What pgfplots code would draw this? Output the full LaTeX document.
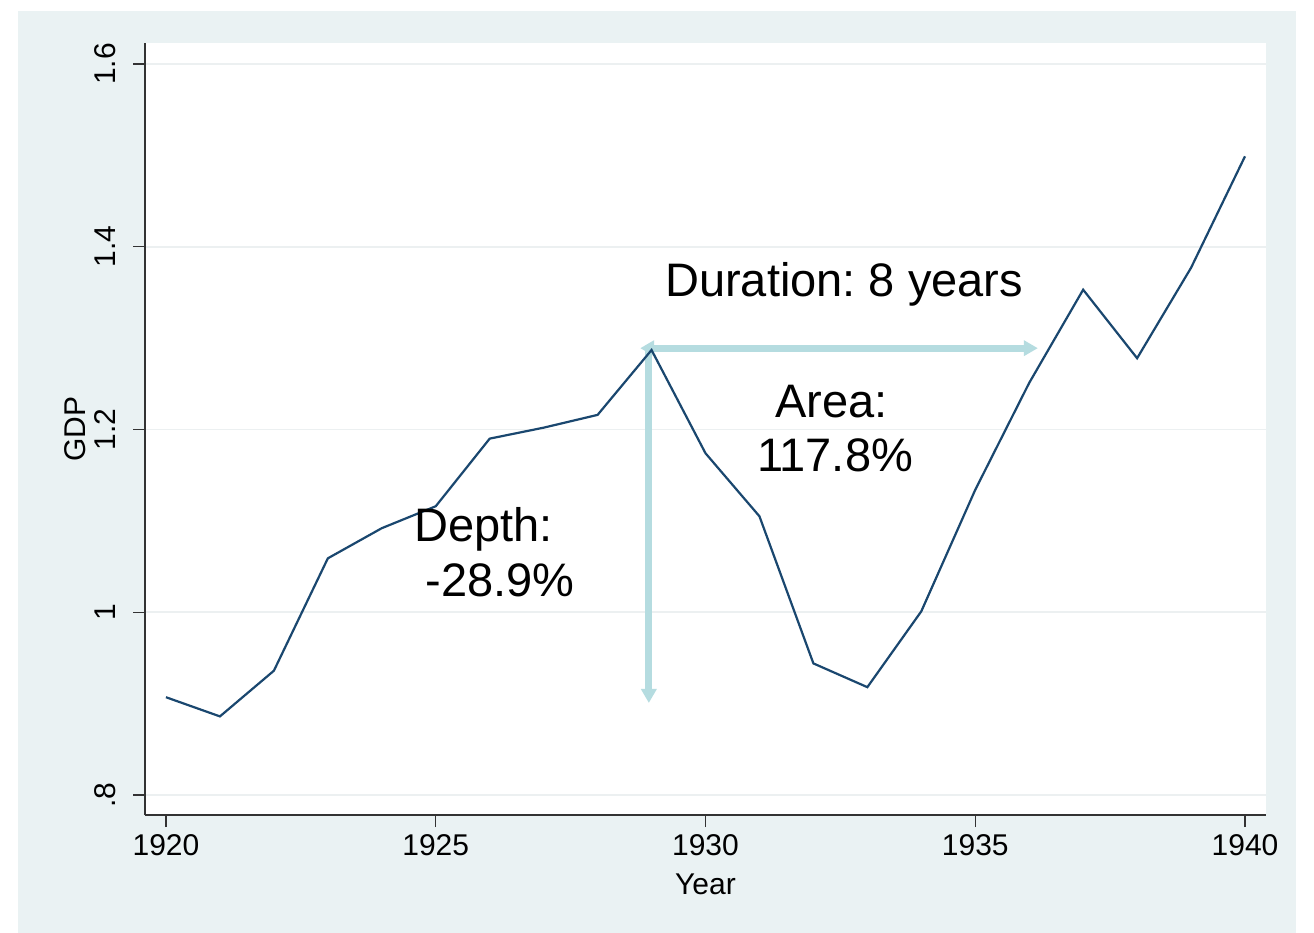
\documentclass[border=0pt]{standalone}
\usepackage{fontspec}
\setmainfont{Liberation Sans}
\usepackage{pgfplots}
\pgfplotsset{compat=1.18}
\usetikzlibrary{arrows.meta}
\definecolor{statabg}{RGB}{234,242,243}
\definecolor{gdpline}{RGB}{26,71,111}
\definecolor{arrowblue}{RGB}{181,220,224}
\frenchspacing

\begin{document}
\begin{tikzpicture}
\useasboundingbox (-72.5pt,-59pt) rectangle (584.5pt,407.5pt);
\fill[white] (-72.5pt,-59pt) rectangle (584.5pt,407.5pt);
\fill[statabg] (-63.5pt,-59pt) rectangle (575.5pt,402pt);
\begin{axis}[
  at={(0,0)}, anchor=south west,
  scale only axis,
  width=560.5pt, height=386pt,
  xmin=1919.611, xmax=1940.389,
  ymin=0.7781, ymax=1.623,
  axis x line*=bottom, axis y line*=left,
  axis line style={-, black!80, line width=0.8pt},
  axis background/.style={fill=white},
  xtick={1920,1925,1930,1935,1940},
  xticklabels={1920,1925,1930,1935,1940},
  ytick={0.8,1,1.2,1.4,1.6},
  yticklabels={.8,1,1.2,1.4,1.6},
  tick align=outside,
  major tick length=6pt,
  tick style={black!80, line width=0.6pt},
  ymajorgrids,
  grid style={statabg!90!gray!60, line width=0.8pt},
  ticklabel style={font=\fontsize{15}{18}\selectfont},
  yticklabel style={rotate=90, anchor=south, inner ysep=8.5pt},
  label style={font=\fontsize{15}{18}\selectfont},
  xlabel={Year}, ylabel={GDP},
  xlabel style={at={(axis description cs:0.5,-0.0894)}, anchor=center},
  ylabel style={at={(axis description cs:-0.0624,0.5)}, anchor=center},
  clip=false,
]
% annotation arrows (peak 1929 -> trough, and duration)
\draw[arrowblue, line width=3.5pt, -{Triangle[width=7.5pt,length=7pt]}]
  (axis cs:1928.95,1.287) -- (axis cs:1928.95,0.9007);
\draw[arrowblue, line width=3.5pt,
  {Triangle[width=7.5pt,length=7pt]}-{Triangle[width=7.5pt,length=7pt]}]
  (axis cs:1928.79,1.289) -- (axis cs:1936.16,1.289);

\addplot[gdpline, line width=1.1pt] coordinates {
  (1920,0.907) (1921,0.886) (1922,0.936) (1923,1.059) (1924,1.092)
  (1925,1.116) (1926,1.190) (1927,1.202) (1928,1.216) (1929,1.287)
  (1930,1.174) (1931,1.105) (1932,0.944) (1933,0.918) (1934,1.001)
  (1935,1.134) (1936,1.251) (1937,1.353) (1938,1.278) (1939,1.377)
  (1940,1.499)
};

\node[anchor=base, inner sep=0pt, font=\fontsize{23.5}{28}\selectfont]
  at (axis cs:1932.57,1.346) {Duration: 8 years};
\node[anchor=base, inner sep=0pt, font=\fontsize{23.5}{28}\selectfont]
  at (axis cs:1932.34,1.2126) {Area:};
\node[anchor=base, inner sep=0pt, font=\fontsize{23.5}{28}\selectfont]
  at (axis cs:1932.40,1.1535) {117.8\%};
\node[anchor=base west, inner sep=0pt, font=\fontsize{23.5}{28}\selectfont]
  at (axis cs:1924.60,1.0769) {Depth:};
\node[anchor=base west, inner sep=0pt, font=\fontsize{23.5}{28}\selectfont]
  at (axis cs:1924.80,1.0167) {-28.9\%};
\end{axis}
\end{tikzpicture}
\end{document}
